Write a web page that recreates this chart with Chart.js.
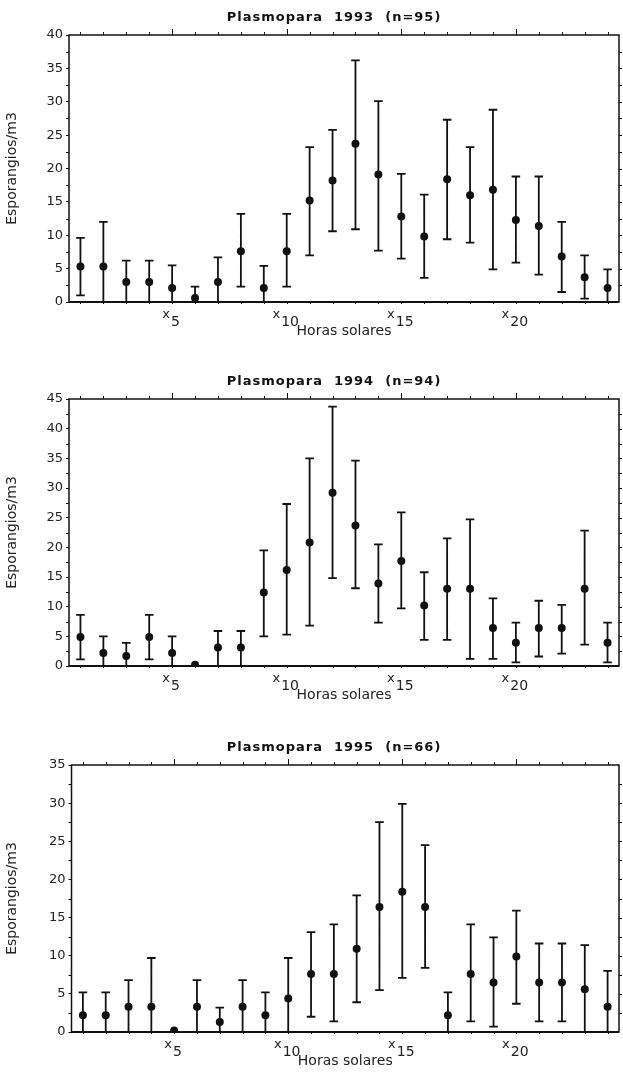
<!DOCTYPE html>
<html>
<head>
<meta charset="utf-8">
<script src="https://cdn.jsdelivr.net/npm/chart.js@4.4.1/dist/chart.umd.min.js"></script>
<style>
    html, body { margin: 0; padding: 0; background: #fff; }
    body { width: 623px; height: 1074px; position: relative; overflow: hidden; }
    canvas { position: absolute; left: 0; }
</style>
</head>
<body>
<canvas id="c1993" width="623" height="345" style="top:0px"></canvas>
<canvas id="c1994" width="623" height="345" style="top:364px"></canvas>
<canvas id="c1995" width="623" height="345" style="top:730px"></canvas>
<script>
"use strict";

const INK = "#111111";
const FONT = "'DejaVu Sans', Verdana, sans-serif";

// solar hours 1..24
const hours = [1, 2, 3, 4, 5, 6, 7, 8, 9, 10, 11, 12, 13, 14, 15, 16, 17, 18, 19, 20, 21, 22, 23, 24];
const labeledHours = [5, 10, 15, 20];

// 1993 (n=95)
const mean1993 = [5.3, 5.3, 3.0, 3.0, 2.1, 0.6, 3.0, 7.6, 2.1, 7.6, 15.2, 18.2, 23.7, 19.1, 12.8, 9.8, 18.4, 16.0, 16.8, 12.3, 11.4, 6.8, 3.7, 2.1];
const low1993  = [1.0, 0, 0, 0, 0, 0, 0, 2.3, 0, 2.3, 7.0, 10.6, 10.9, 7.7, 6.5, 3.6, 9.4, 8.9, 4.9, 5.9, 4.1, 1.5, 0.5, 0];
const high1993 = [9.6, 12.0, 6.2, 6.2, 5.5, 2.3, 6.7, 13.2, 5.4, 13.2, 23.2, 25.8, 36.2, 30.1, 19.2, 16.1, 27.3, 23.2, 28.8, 18.8, 18.8, 12.0, 7.0, 4.9];

// 1994 (n=94)
const mean1994 = [4.9, 2.2, 1.7, 4.9, 2.2, 0.2, 3.1, 3.1, 12.4, 16.2, 20.8, 29.2, 23.7, 13.9, 17.7, 10.2, 13.0, 13.0, 6.4, 3.9, 6.4, 6.4, 13.0, 3.9];
const low1994  = [1.1, 0, 0, 1.1, 0, 0.2, 0, 0, 5.0, 5.3, 6.8, 14.8, 13.1, 7.3, 9.7, 4.4, 4.4, 1.2, 1.2, 0.6, 1.6, 2.1, 3.6, 0.6];
const high1994 = [8.6, 5.0, 3.9, 8.6, 5.0, 0.2, 5.9, 5.9, 19.5, 27.3, 35.0, 43.7, 34.6, 20.5, 25.9, 15.8, 21.5, 24.7, 11.4, 7.3, 11.0, 10.3, 22.8, 7.3];

// 1995 (n=66)
const mean1995 = [2.2, 2.2, 3.3, 3.3, 0.2, 3.3, 1.3, 3.3, 2.2, 4.4, 7.6, 7.6, 10.9, 16.4, 18.4, 16.4, 2.2, 7.6, 6.5, 9.9, 6.5, 6.5, 5.6, 3.3];
const low1995  = [0, 0, 0, 0, 0.2, 0, 0, 0, 0, 0, 2.0, 1.4, 3.9, 5.5, 7.1, 8.4, 0, 1.4, 0.7, 3.7, 1.4, 1.4, 0, 0];
const high1995 = [5.2, 5.2, 6.8, 9.7, 0.2, 6.8, 3.2, 6.8, 5.2, 9.7, 13.1, 14.1, 17.9, 27.5, 29.9, 24.5, 5.2, 14.1, 12.4, 15.9, 11.6, 11.6, 11.4, 8.0];

const panels = [
    { id: "c1993", title: "Plasmopara  1993  (n=95)", yMax: 40, mean: mean1993, low: low1993, high: high1993, axisW: 69, padRight: 3.5 },
    { id: "c1994", title: "Plasmopara  1994  (n=94)", yMax: 45, mean: mean1994, low: low1994, high: high1994, axisW: 69, padRight: 3.5 },
    { id: "c1995", title: "Plasmopara  1995  (n=66)", yMax: 35, mean: mean1995, low: low1995, high: high1995, axisW: 71.5, padRight: 1 }
];

const errorFrame = {
    id: "errorFrame",
    beforeDatasetsDraw(chart, args, opts) {
        const { ctx, scales: { x, y } } = chart;
        ctx.save();
        ctx.strokeStyle = INK;
        ctx.lineWidth = 1.8;
        ctx.beginPath();
        opts.low.forEach((lo, i) => {
            const hi = opts.high[i];
            if (hi - lo < 0.05) return;
            const px = x.getPixelForValue(hours[i]);
            const pl = y.getPixelForValue(lo), ph = y.getPixelForValue(hi);
            ctx.moveTo(px, pl); ctx.lineTo(px, ph);
            ctx.moveTo(px - 4.3, ph); ctx.lineTo(px + 4.3, ph);
            if (lo > 0.25) { ctx.moveTo(px - 4.3, pl); ctx.lineTo(px + 4.3, pl); }
        });
        ctx.stroke();
        ctx.restore();
    },
    afterDraw(chart, args, opts) {
        const { ctx, chartArea: a, scales: { x, y } } = chart;
        ctx.save();
        ctx.strokeStyle = INK;
        // frame
        ctx.lineWidth = 1.5;
        ctx.strokeRect(a.left, a.top, a.right - a.left, a.bottom - a.top);
        ctx.lineWidth = 2;
        ctx.beginPath(); ctx.moveTo(a.left, a.bottom); ctx.lineTo(a.right, a.bottom); ctx.stroke();
        // hour ticks on top and bottom
        ctx.lineWidth = 1;
        ctx.beginPath();
        hours.forEach(h => {
            const px = Math.round(x.getPixelForValue(h)) + 0.5;
            const len = h % 5 === 0 ? 6 : 3;
            ctx.moveTo(px, a.top); ctx.lineTo(px, a.top - len);
            ctx.moveTo(px, a.bottom); ctx.lineTo(px, a.bottom + 2);
        });
        // minor ticks left, ticks right
        for (let v = 2.5; v < opts.yMax; v += 5) {
            const py = Math.round(y.getPixelForValue(v)) + 0.5;
            ctx.moveTo(a.left, py); ctx.lineTo(a.left - 3, py);
        }
        for (let v = 2.5; v < opts.yMax; v += 2.5) {
            const py = Math.round(y.getPixelForValue(v)) + 0.5;
            ctx.moveTo(a.right, py); ctx.lineTo(a.right + 3, py);
        }
        ctx.stroke();
        // x labels: "x" with lowered number
        ctx.fillStyle = "#222";
        ctx.textBaseline = "alphabetic";
        ctx.textAlign = "left";
        labeledHours.forEach(h => {
            const px = x.getPixelForValue(h);
            ctx.font = "13px " + FONT;
            const wx = ctx.measureText("x").width;
            ctx.font = "14px " + FONT;
            const wd = ctx.measureText(String(h)).width;
            const start = px - (wx + 1 + wd) / 2 - 1;
            ctx.font = "13px " + FONT;
            ctx.fillText("x", start, a.bottom + 16);
            ctx.font = "14px " + FONT;
            ctx.fillText(String(h), start + wx + 1, a.bottom + 24);
        });
        // panel title
        ctx.fillStyle = INK;
        ctx.font = "bold 13px " + FONT;
        ctx.letterSpacing = "1px";
        ctx.textAlign = "center";
        ctx.textBaseline = "middle";
        ctx.fillText(opts.title, 334, a.top - 17);
        ctx.restore();
    }
};

function initPanel(p) {
    const ctx = document.getElementById(p.id).getContext("2d");
    return new Chart(ctx, {
        type: "scatter",
        data: {
            datasets: [{
                data: hours.map((h, i) => ({ x: h, y: p.mean[i] })),
                pointRadius: 4,
                pointBackgroundColor: INK,
                pointBorderWidth: 0,
                showLine: false
            }]
        },
        options: {
            responsive: false,
            animation: false,
            layout: { padding: { top: 35, right: p.padRight, left: 0, bottom: 0 } },
            plugins: {
                legend: { display: false },
                tooltip: { enabled: false },
                errorFrame: { low: p.low, high: p.high, title: p.title, yMax: p.yMax }
            },
            scales: {
                x: {
                    type: "linear",
                    min: 0.5, max: 24.5,
                    grid: { display: false },
                    border: { display: false },
                    ticks: { display: false },
                    title: { display: true, text: "Horas solares", color: "#222", font: { family: FONT, size: 14 }, padding: { top: 0, bottom: 5 } },
                    afterFit(scale) { scale.height = 43; }
                },
                y: {
                    min: 0, max: p.yMax,
                    ticks: { stepSize: 5, color: "#222", padding: 3, font: { family: FONT, size: 13 } },
                    grid: { drawOnChartArea: false, tickLength: 3, color: INK, lineWidth: 1 },
                    border: { display: false },
                    title: { display: true, text: "Esporangios/m3", color: "#222", font: { family: FONT, size: 14 }, padding: { top: 4, bottom: 0 } },
                    afterFit(scale) { scale.width = p.axisW; }
                }
            }
        },
        plugins: [errorFrame]
    });
}

panels.forEach(initPanel);
</script>
</body>
</html>
